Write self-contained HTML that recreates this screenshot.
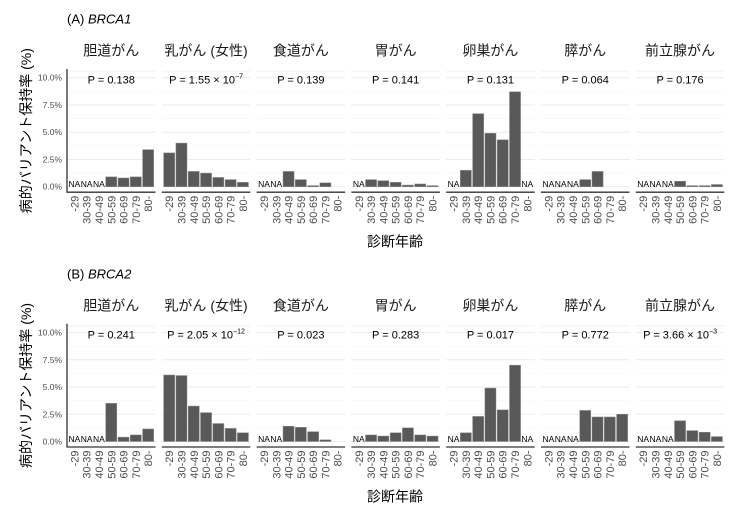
<!DOCTYPE html>
<html><head><meta charset="utf-8"><style>
html,body{margin:0;padding:0;background:#fff;}
svg{display:block;font-family:"Liberation Sans","Noto Sans CJK JP",sans-serif;}
</style></head><body>
<svg id="chart" width="740" height="512" viewBox="0 0 740 512"></svg>
<script>
const cancers = ["胆道がん","乳がん (女性)","食道がん","胃がん","卵巣がん","膵がん","前立腺がん"];
const ageGroups = ["-29","30-39","40-49","50-59","60-69","70-79","80-"];
const yTicks = [0,2.5,5,7.5,10];
const yTickLabels = ["0.0%","2.5%","5.0%","7.5%","10.0%"];
// null = NA
const brca1Values = [
 [null,null,null,0.9,0.8,0.9,3.4],
 [3.1,4.0,1.4,1.25,0.85,0.65,0.4],
 [null,null,1.4,0.65,0.1,0.35,0],
 [null,0.65,0.55,0.4,0.15,0.25,0.1],
 [null,1.5,6.7,4.9,4.3,8.7,null],
 [null,null,null,0.65,1.4,0,0],
 [null,null,null,0.5,0.1,0.1,0.2]
];
const brca2Values = [
 [null,null,null,3.5,0.4,0.6,1.15],
 [6.1,6.05,3.25,2.65,1.65,1.2,0.8],
 [null,null,1.4,1.3,0.9,0.15,0],
 [null,0.6,0.5,0.8,1.25,0.6,0.5],
 [null,0.8,2.3,4.9,2.9,7.0,null],
 [null,null,null,2.85,2.25,2.25,2.5],
 [null,null,null,1.9,1.0,0.85,0.45]
];
const brca1P = [["0.138"],["1.55 × 10","−7"],["0.139"],["0.141"],["0.131"],["0.064"],["0.176"]];
const brca2P = [["0.241"],["2.05 × 10","−12"],["0.023"],["0.283"],["0.017"],["0.772"],["3.66 × 10","−3"]];

const NS="http://www.w3.org/2000/svg";
const svg=document.getElementById('chart');
function mk(tag,attrs,parent){const e=document.createElementNS(NS,tag);for(const k in attrs)e.setAttribute(k,attrs[k]);(parent||svg).appendChild(e);return e;}

const panelX0=67, panelStep=94.8, panelW=88.5;
function xBand(i,p){const unit=panelW/7.2;return p*panelStep+panelX0+unit*(0.6+i);}
const bw=panelW/7.2*0.9;

function drawRow(title, values, pvals, zeroY, label){
  const ppu=10.9; // px per percent
  const y=v=>zeroY-v*ppu;
  const g=mk('g',{});
  
  
  const t=mk('text',{x:67,y:zeroY-163,'font-size':13,fill:'#000'},g);
  
  
  t.innerHTML='(' + (label==='brca1'?'A':'B') + ') <tspan font-style="italic">'+title+'</tspan>';
  // y title
  const yt=mk('text',{x:0,y:0,'font-size':14,fill:'#000','text-anchor':'middle',transform:`translate(31,${zeroY-56}) rotate(-90)`},g);
  
  
  yt.textContent='病的バリアント保持率 (%)';
  // y tick labels
  yTicks.forEach((v,k)=>{
    const tl=mk('text',{x:62,y:y(v)+3,'font-size':8.5,fill:'#4d4d4d','text-anchor':'end'},g);
    
    
    tl.textContent=yTickLabels[k];
  });
  for(let p=0;p<7;p++){
    const px=p*panelStep+panelX0;
    const pg=mk('g',{},g);
    
    
    // grid
    for(let gv=0;gv<=10.01;gv+=1.25){
      mk('line',{x1:px,x2:px+panelW,y1:y(gv),y2:y(gv),stroke:gv%2.5===0?'#ebebeb':'#f5f5f5','stroke-width':gv%2.5===0?1:0.6},pg);
    }
    mk('line',{x1:px,x2:px+panelW,y1:y(10.6),y2:y(10.6),stroke:'#f2f2f2','stroke-width':1},pg);
    // strip title
    const st=mk('text',{x:px+panelW/2,y:zeroY-131,'font-size':14,fill:'#1a1a1a','text-anchor':'middle'},pg);
    
    
    st.textContent=cancers[p];
    // p value
    const pt=mk('text',{x:px+panelW/2,y:zeroY-103,'font-size':11,fill:'#000','text-anchor':'middle'},pg);
    
    
    const pv=pvals[p];
    pt.innerHTML='P = '+pv[0]+(pv[1]?'<tspan dy="-5" font-size="7">'+pv[1]+'</tspan>':'');
    // bars
    values[p].forEach((v,i)=>{
      const cx=xBand(i,p);
      if(v===null){
        const na=mk('text',{x:cx,y:zeroY+0.5,'font-size':8.5,fill:'#000','text-anchor':'middle'},pg);
        
        
        na.textContent='NA';
      } else if(v>0){
        const r=mk('rect',{x:cx-bw/2,y:y(v),width:bw,height:v*ppu,fill:'#595959',stroke:'#8a8a8a','stroke-width':0.5},pg);
        
        
      }
      const xl=mk('text',{x:0,y:0,'font-size':11,fill:'#4d4d4d','text-anchor':'end',transform:`translate(${cx+4},${zeroY+9}) rotate(-90)`},pg);
      
      
      xl.textContent=ageGroups[i];
    });
    // x axis line
    mk('line',{x1:px,x2:px+panelW,y1:zeroY+5.5,y2:zeroY+5.5,stroke:'#333','stroke-width':1.3},pg);
  }
  mk('line',{x1:panelX0,x2:panelX0,y1:y(10.8),y2:zeroY+6,stroke:'#333','stroke-width':1.3},g);
  const xt=mk('text',{x:395,y:zeroY+60,'font-size':14,fill:'#000','text-anchor':'middle'},g);
  
  
  xt.textContent='診断年齢';
}
drawRow('BRCA1',brca1Values,brca1P,186.7,'brca1');
drawRow('BRCA2',brca2Values,brca2P,441.5,'brca2');
</script>
</body></html>
